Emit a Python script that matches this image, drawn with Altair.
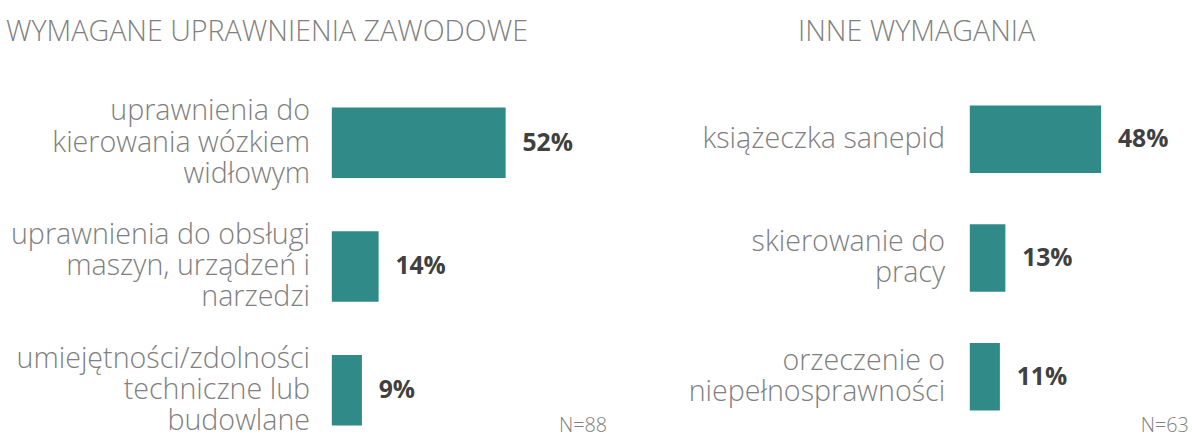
import altair as alt
import pandas as pd

# ---- data ----
left_title = "WYMAGANE UPRAWNIENIA ZAWODOWE"
left_categories = [
    "uprawnienia do|kierowania wózkiem|widłowym",
    "uprawnienia do obsługi|maszyn, urządzeń i|narzedzi",
    "umiejętności/zdolności|techniczne lub|budowlane",
]
left_values = [52, 14, 9]
left_n = "N=88"

right_title = "INNE WYMAGANIA"
right_categories = [
    "książeczka sanepid",
    "skierowanie do|pracy",
    "orzeczenie o|niepełnosprawności",
]
right_values = [48, 13, 11]
right_n = "N=63"

BAR = "#308a88"
GRAY = "#7f7f7f"
DARK = "#404040"
LFONT = "Open Sans"
LH = 31.5


def panel(cats, vals, title, n_label, width, xrange, yrange, label_x, title_x, n_x):
    df = pd.DataFrame({"cat": cats, "value": vals, "lab": [f"{v}%" for v in vals],
                       "nl": [c.count("|") + 1 for c in cats]})
    y = alt.Y("cat:N", sort=cats, axis=None,
              scale=alt.Scale(range=yrange, paddingInner=0.43, paddingOuter=0))
    x = alt.X("value:Q", axis=None,
              scale=alt.Scale(domain=[0, max(vals)], range=xrange))
    base = alt.Chart(df)
    bars = base.mark_bar(color=BAR).encode(x=x, y=y)
    vlab = base.mark_text(align="left", baseline="middle", dx=17, font=LFONT,
                          fontWeight="bold", fontSize=25, color=DARK).encode(x=x, y=y, text="lab:N")
    layers = [bars, vlab]
    for n in sorted(set(df["nl"])):
        layers.append(
            base.transform_filter(alt.datum.nl == n).mark_text(
                align="right", baseline="middle", lineBreak="|", lineHeight=LH,
                dy=-(n - 1) * LH / 2, font=LFONT, fontWeight=300, fontSize=29, color=GRAY
            ).encode(x=alt.value(label_x), y=y, text="cat:N")
        )
    tdf = pd.DataFrame({"t": [title]})
    ttl = alt.Chart(tdf).mark_text(align="left", baseline="alphabetic", font=LFONT,
                                   fontWeight=300, fontSize=29, color=GRAY).encode(
        x=alt.value(title_x), y=alt.value(39), text="t:N")
    ndf = pd.DataFrame({"t": [n_label]})
    nl = alt.Chart(ndf).mark_text(align="left", baseline="alphabetic", font=LFONT,
                                  fontWeight=300, fontSize=20, color=GRAY).encode(
        x=alt.value(n_x), y=alt.value(435), text="t:N")
    layers += [ttl, nl]
    return alt.layer(*layers).properties(width=width, height=437)


left = panel(left_categories, left_values, left_title, left_n, 600,
             [336, 512], [106, 428], 314, 6, 566)
right = panel(right_categories, right_values, right_title, right_n, 592,
              [367, 500], [104, 413], 342, 193, 540)

chart = alt.hconcat(left, right, spacing=0).properties(padding=0).configure_view(stroke=None)
chart.save("out.html", embed_options={"renderer": "svg", "actions": False})
